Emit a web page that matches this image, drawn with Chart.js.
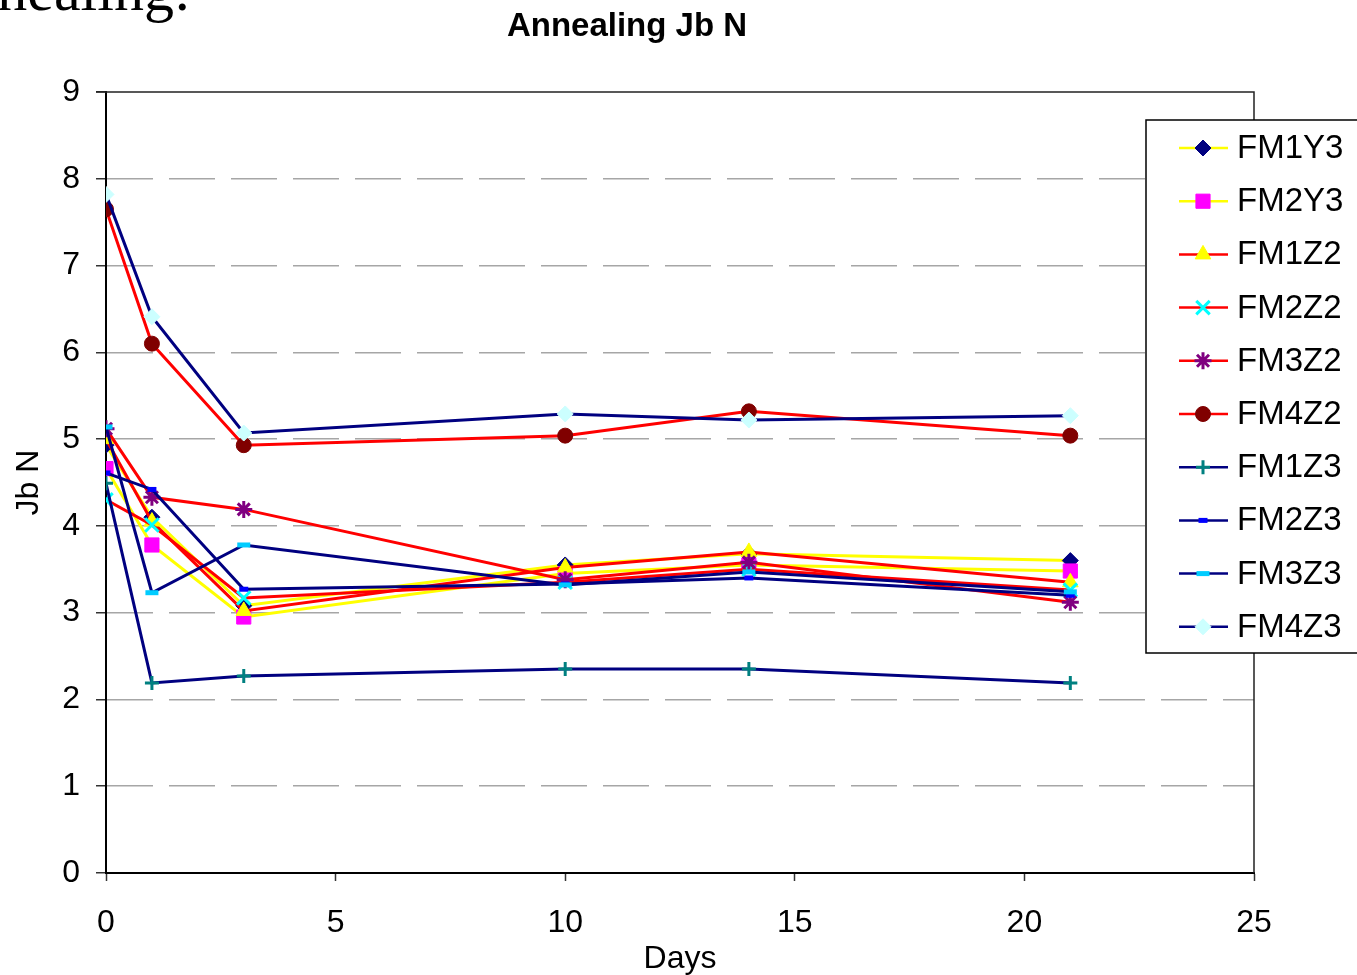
<!DOCTYPE html>
<html>
<head>
<meta charset="utf-8">
<title>Annealing Jb N</title>
<script src="https://cdn.jsdelivr.net/npm/chart.js@4.4.1/dist/chart.umd.min.js"></script>
<style>
    html, body { margin: 0; padding: 0; background: #fff; }
    #wrap { position: relative; width: 1357px; height: 975px; overflow: hidden; }
</style>
</head>
<body>
<div id="wrap"><canvas id="chart" width="1357" height="975"></canvas></div>
<script>
// ── Data ────────────────────────────────────────────────────────────────
var days = [0, 1, 3, 10, 14, 21];

var seriesNames = ['FM1Y3', 'FM2Y3', 'FM1Z2', 'FM2Z2', 'FM3Z2', 'FM4Z2', 'FM1Z3', 'FM2Z3', 'FM3Z3', 'FM4Z3'];

var fm1y3 = [4.93, 4.10, 3.08, 3.55, 3.68, 3.60];
var fm2y3 = [4.66, 3.78, 2.95, 3.45, 3.55, 3.48];
var fm1z2 = [5.00, 4.05, 3.02, 3.52, 3.70, 3.35];
var fm2z2 = [4.30, 4.01, 3.17, 3.35, 3.50, 3.26];
var fm3z2 = [5.12, 4.33, 4.19, 3.38, 3.58, 3.12];
var fm4z2 = [7.65, 6.10, 4.93, 5.04, 5.32, 5.04];
var fm1z3 = [4.49, 2.19, 2.27, 2.35, 2.35, 2.19];
var fm2z3 = [4.61, 4.42, 3.27, 3.33, 3.40, 3.20];
var fm3z3 = [5.14, 3.23, 3.78, 3.32, 3.47, 3.24];
var fm4z3 = [7.82, 6.41, 5.07, 5.29, 5.22, 5.27];

var xTicks = [0, 5, 10, 15, 20, 25];
var yTicks = [0, 1, 2, 3, 4, 5, 6, 7, 8, 9];

// ── Styles (Excel-like) ─────────────────────────────────────────────────
var FONT = "'Liberation Sans', Arial, sans-serif";
var YELLOW = '#ffff00', RED = '#ff0000', NAVY = '#000080';

var styles = [
    { line: YELLOW, fill: NAVY,      border: NAVY,      shape: 'rectRot',  r: 8,   bw: 1 },
    { line: YELLOW, fill: '#ff00ff', border: '#ff00ff', shape: 'rect',     r: 10,  bw: 1 },
    { line: RED,    fill: YELLOW,    border: YELLOW,    shape: 'triangle', r: 9,   bw: 1 },
    { line: RED,    fill: '#00ffff', border: '#00ffff', shape: 'crossRot', r: 9.5, bw: 3 },
    { line: RED,    fill: '#800080', border: '#800080', shape: 'star',     r: 8.5, bw: 3 },
    { line: RED,    fill: '#800000', border: '#800000', shape: 'circle',   r: 7.5, bw: 1 },
    { line: NAVY,   fill: '#008080', border: '#008080', shape: 'cross',    r: 7,   bw: 3 },
    { line: NAVY,   fill: '#0000ff', border: '#0000ff', shape: 'line',     r: 4.5, bw: 5 },
    { line: NAVY,   fill: '#00ccff', border: '#00ccff', shape: 'line',     r: 6.5, bw: 5 },
    { line: NAVY,   fill: '#ccffff', border: '#ccffff', shape: 'rectRot',  r: 8,   bw: 1 }
];

var values = [fm1y3, fm2y3, fm1z2, fm2z2, fm3z2, fm4z2, fm1z3, fm2z3, fm3z3, fm4z3];

var datasets = seriesNames.map(function (name, i) {
    var s = styles[i];
    return {
        label: name,
        data: values[i].map(function (v, k) { return { x: days[k], y: v }; }),
        borderColor: s.line,
        borderWidth: 3,
        backgroundColor: s.fill,
        pointStyle: s.shape,
        pointRadius: s.r,
        pointHoverRadius: s.r,
        pointBackgroundColor: s.fill,
        pointBorderColor: s.border,
        pointBorderWidth: s.bw,
        tension: 0,
        fill: false,
        order: seriesNames.length - i   // later series on top, like Excel
    };
});

// ── Extras: slide text, title, plot frame, legend box ───────────────────
var extras = {
    id: 'extras',
    afterDraw: function (chart) {
        var ctx = chart.ctx;
        var a = chart.chartArea;
        ctx.save();

        // cut-off slide heading behind the chart
        ctx.fillStyle = '#000';
        ctx.font = "60px 'Liberation Serif', 'Times New Roman', serif";
        ctx.textAlign = 'left';
        ctx.textBaseline = 'alphabetic';
        ctx.fillText('Annealing:', -76, 10);

        // chart title
        ctx.font = "bold 33px " + FONT;
        ctx.textAlign = 'center';
        ctx.textBaseline = 'middle';
        ctx.fillText('Annealing Jb N', 627, 27);

        // plot frame (top + right)
        ctx.strokeStyle = '#222';
        ctx.lineWidth = 1.5;
        ctx.beginPath();
        ctx.moveTo(a.left - 10, a.top);
        ctx.lineTo(a.right, a.top);
        ctx.lineTo(a.right, a.bottom);
        ctx.stroke();

        // legend box
        var bx = 1146, by = 120, bw = 220, bh = 533;
        ctx.fillStyle = '#fff';
        ctx.fillRect(bx, by, bw, bh);
        ctx.strokeStyle = '#000';
        ctx.lineWidth = 1.5;
        ctx.strokeRect(bx, by, bw, bh);

        chart.data.datasets.forEach(function (ds, i) {
            var y = 148 + i * 53.2;
            ctx.strokeStyle = ds.borderColor;
            ctx.lineWidth = 2.5;
            ctx.beginPath();
            ctx.moveTo(1179, y);
            ctx.lineTo(1228, y);
            ctx.stroke();

            ctx.fillStyle = ds.pointBackgroundColor;
            ctx.strokeStyle = ds.pointBorderColor;
            ctx.lineWidth = ds.pointBorderWidth;
            Chart.helpers.drawPoint(ctx, {
                pointStyle: ds.pointStyle,
                radius: ds.pointRadius,
                borderWidth: ds.pointBorderWidth,
                rotation: 0
            }, 1203, y);

            ctx.fillStyle = '#000';
            ctx.font = "33px " + FONT;
            ctx.textAlign = 'left';
            ctx.textBaseline = 'middle';
            ctx.fillText(ds.label, 1237, y + 1);
        });

        ctx.restore();
    }
};

new Chart(document.getElementById('chart'), {
    type: 'line',
    data: { datasets: datasets },
    options: {
        responsive: false,
        animation: false,
        layout: { padding: { top: 92, right: 103, left: 0, bottom: 0 } },
        plugins: {
            legend: { display: false },
            title: { display: false },
            tooltip: { enabled: false }
        },
        scales: {
            x: {
                type: 'linear',
                min: 0,
                max: 25,
                afterFit: function (scale) { scale.height = 102; },
                afterBuildTicks: function (scale) {
                    scale.ticks = xTicks.map(function (v) { return { value: v }; });
                },
                ticks: {
                    color: '#000',
                    font: { family: FONT, size: 32 },
                    padding: 23,
                    maxRotation: 0
                },
                grid: {
                    drawOnChartArea: false,
                    drawTicks: true,
                    tickLength: 8,
                    tickColor: '#333',
                    tickWidth: 1.5
                },
                border: { display: true, color: '#000', width: 2 },
                title: {
                    display: true,
                    text: 'Days',
                    color: '#000',
                    font: { family: FONT, size: 32, lineHeight: 1.0 },
                    padding: { top: 0, bottom: 0 }
                }
            },
            y: {
                type: 'linear',
                min: 0,
                max: 9,
                afterFit: function (scale) { scale.width = 106; },
                afterBuildTicks: function (scale) {
                    scale.ticks = yTicks.map(function (v) { return { value: v }; });
                },
                ticks: {
                    color: '#000',
                    font: { family: FONT, size: 32 },
                    padding: 16
                },
                grid: {
                    color: function (c) {
                        var v = c.tick ? c.tick.value : null;
                        return (v === 0 || v === 9) ? 'rgba(0,0,0,0)' : '#a6a6a6';
                    },
                    lineWidth: 1.5,
                    tickLength: 10,
                    tickColor: '#333',
                    tickWidth: 1.5,
                    tickBorderDash: []
                },
                border: { display: true, color: '#000', width: 2, dash: [46, 16] },
                title: {
                    display: true,
                    text: 'Jb N',
                    color: '#000',
                    font: { family: FONT, size: 32 },
                    padding: { top: 10, bottom: 0 }
                }
            }
        }
    },
    plugins: [extras]
});
</script>
</body>
</html>
